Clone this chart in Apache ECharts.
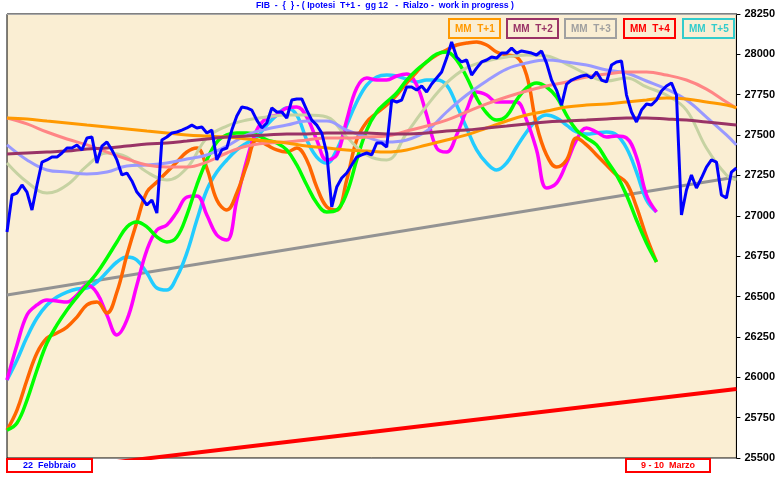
<!DOCTYPE html>
<html><head><meta charset="utf-8">
<script src="https://cdn.jsdelivr.net/npm/echarts/dist/echarts.min.js"></script>
<style>html,body{margin:0;padding:0;background:#fff}#c{width:778px;height:478px}</style>
</head><body><div id="c"></div>
<script>
const titleText = 'FIB  -  {  } - ( Ipotesi  T+1 -  gg 12   -  Rialzo -  work in progress )';
const legendLabels = ['MM  T+1', 'MM  T+2', 'MM  T+3', 'MM  T+4', 'MM  T+5'];
const dateLabels = ['22  Febbraio', '9 - 10  Marzo'];
const yMin = 25500, yMax = 28250, yStep = 250;
const xLast = 146;

// price (one value per x step)
const price = [26900,27129,27141,27191,27147,27036,27191,27333,27346,27364,27364,27389,27420,27420,27439,27408,27482,27488,27327,27432,
27457,27408,27346,27253,27265,27216,27147,27110,27067,27098,27017,27470,27488,27513,27519,27531,27544,27562,27544,27550,
27513,27531,27346,27408,27420,27531,27618,27674,27668,27655,27593,27544,27575,27668,27643,27643,27606,27717,27724,27724,
27655,27593,27562,27513,27389,27055,27178,27234,27265,27315,27364,27377,27389,27377,27451,27451,27426,27717,27705,27717,
27798,27798,27779,27804,27767,27816,27854,27891,27977,28077,27984,27953,27965,27872,27915,27953,27965,27984,27977,28008,
28008,28039,28008,28021,28015,28008,27996,28021,27946,27841,27779,27686,27816,27841,27854,27866,27872,27854,27891,27841,
27829,27934,27953,27959,27748,27643,27581,27655,27693,27686,27717,27773,27804,27823,27748,27005,27160,27253,27172,27234,
27302,27346,27333,27129,27110,27271,27296];

// fast averages (every 2 x steps)
const fastGreen = [25673,25717,25859,26045,26212,26324,26417,26497,26571,26646,26739,26838,26931,26962,26931,26869,26838,26869,27005,27191,
27346,27457,27501,27513,27513,27501,27470,27451,27408,27315,27191,27079,27024,27036,27141,27346,27531,27643,27705,27761,
27841,27903,27953,28002,28015,27965,27860,27730,27637,27593,27618,27717,27792,27823,27798,27736,27624,27531,27482,27439,
27346,27253,27129,26974,26832,26714];
const fastOrange = [25673,25797,25983,26150,26243,26274,26311,26373,26448,26466,26398,26528,26757,26962,27147,27209,27271,27333,27395,27420,
27296,27098,27036,27141,27315,27470,27439,27408,27395,27420,27346,27178,27055,27036,27222,27470,27581,27637,27686,27748,
27823,27891,27953,27996,28027,28058,28070,28077,28058,28015,27996,27984,27872,27562,27377,27302,27346,27482,27439,27377,
27315,27253,27203,27055,26869,26714];
const fastMagenta = [25983,26200,26386,26448,26479,26472,26466,26509,26571,26522,26386,26262,26355,26571,26788,26912,26943,27024,27116,27123,
27005,26881,26850,27098,27346,27531,27606,27624,27668,27674,27612,27470,27346,27377,27593,27792,27854,27841,27841,27866,
27878,27810,27624,27420,27395,27501,27655,27767,27748,27705,27705,27705,27593,27408,27172,27203,27327,27470,27544,27519,
27488,27494,27482,27364,27129,27024];
const fastCyan = [25983,26107,26249,26367,26448,26497,26528,26547,26553,26590,26652,26714,26745,26726,26646,26553,26540,26621,26770,26974,
27160,27271,27346,27408,27451,27488,27562,27624,27668,27624,27470,27364,27327,27408,27562,27705,27810,27860,27872,27866,
27847,27829,27841,27841,27810,27686,27544,27408,27327,27284,27327,27426,27519,27593,27624,27606,27562,27519,27507,27513,
27519,27501,27420,27271,27098,27024];

// slow averages (every 4 x steps)
const slowOrange = [27606,27600,27587,27575,27562,27550,27538,27525,27513,27501,27494,27488,27476,27463,27451,27432,27420,27408,27401,27395,
27408,27439,27470,27501,27544,27587,27624,27649,27674,27686,27693,27705,27717,27730,27724,27705,27686,27668];
const slowMaroon = [27383,27389,27395,27401,27414,27420,27432,27445,27451,27463,27476,27488,27494,27501,27507,27507,27513,27513,27513,27507,
27507,27513,27525,27531,27544,27556,27569,27581,27587,27593,27600,27606,27606,27600,27593,27581,27569,27562];
const slowSalmon = [27606,27569,27519,27476,27439,27395,27352,27315,27302,27302,27333,27389,27432,27451,27457,27470,27482,27482,27488,27494,
27525,27556,27593,27643,27693,27736,27773,27804,27829,27860,27878,27891,27891,27872,27841,27785,27705,27668];
const slowLavender = [27439,27346,27284,27271,27259,27271,27309,27315,27327,27352,27377,27432,27501,27538,27562,27587,27587,27531,27488,27457,
27470,27525,27643,27748,27835,27909,27946,27965,27953,27934,27903,27885,27835,27785,27717,27612,27501,27439];
const slowOlive = [27327,27209,27141,27191,27309,27389,27364,27271,27222,27296,27482,27556,27593,27612,27624,27624,27612,27488,27377,27346,
27513,27680,27823,27916,27959,27984,27996,27990,27940,27878,27835,27854,27798,27748,27655,27420,27253,27222];

// linear trends: [start, end]
const trendGray = [26510, 27240];
const trendRed = [25395, 25927];

const fast = (arr) => arr.map((v, k) => [k * 2, v]);
const slow = (arr) => arr.map((v, k) => [Math.min(k * 4, xLast), v]);
const trend = (arr) => [[0, arr[0]], [xLast, arr[1]]];

function line(name, data, color, width, smooth) {
  return { name, type: 'line', data, symbol: 'none', smooth: smooth ? 0.4 : false,
    lineStyle: { color, width }, itemStyle: { color }, animation: false };
}

const font = 'Liberation Sans';
const legendColors = ['#FF9900', '#993366', '#A0A0A0', '#FF0000', '#33CCCC'];
const legendLefts = [449, 507, 565, 624, 683];

const titles = [{
  text: titleText, left: 256, top: 1, padding: 0,
  textStyle: { color: '#0000FF', fontSize: 8.7, fontWeight: 'bold', fontFamily: font }
}];
legendLabels.forEach((t, i) => titles.push({
  text: t, left: legendLefts[i], top: 19, padding: [4, 6, 3, 6],
  borderColor: legendColors[i], borderWidth: 2,
  textStyle: { color: legendColors[i], fontSize: 10, fontWeight: 'bold', fontFamily: font, lineHeight: 12 }
}));
titles.push({ text: dateLabels[0], left: 7, top: 459, padding: [1, 16, 1, 16], borderColor: '#FF0000', borderWidth: 2,
  textStyle: { color: '#0000FF', fontSize: 9, fontWeight: 'bold', fontFamily: font, lineHeight: 11 } });
titles.push({ text: dateLabels[1], left: 626, top: 459, padding: [1, 15, 1, 15], borderColor: '#FF0000', borderWidth: 2,
  textStyle: { color: '#FF0000', fontSize: 9, fontWeight: 'bold', fontFamily: font, lineHeight: 11 } });

const chart = echarts.init(document.getElementById('c'), null, { renderer: 'canvas' });
chart.setOption({
  animation: false,
  backgroundColor: '#FFFFFF',
  title: titles,
  grid: { left: 7, right: 40, top: 14, bottom: 20, show: true, backgroundColor: '#FAEED3', borderColor: '#000000', borderWidth: 1 },
  xAxis: [{ type: 'value', min: 0, max: xLast, position: 'bottom',
    axisLine: { show: true, onZero: false, lineStyle: { color: '#909090', width: 1 } },
    axisTick: { show: false }, axisLabel: { show: false }, splitLine: { show: false } },
  { type: 'value', min: 0, max: xLast, position: 'top',
    axisLine: { show: true, onZero: false, lineStyle: { color: '#A8A8A8', width: 1 } },
    axisTick: { show: false }, axisLabel: { show: false }, splitLine: { show: false } }],
  yAxis: {
    type: 'value', position: 'right', min: yMin, max: yMax, interval: yStep,
    axisLine: { show: true, onZero: false, lineStyle: { color: '#000', width: 1 } },
    axisTick: { show: true, length: 4, lineStyle: { color: '#000' } },
    axisLabel: { color: '#000', fontSize: 11, fontWeight: 'bold', fontFamily: font, margin: 8,
      formatter: (v) => String(v) },
    splitLine: { show: false }
  },
  series: [
    line('Trend T+4', trend(trendRed), '#FF0000', 4, false),
    line('Trend', trend(trendGray), '#939393', 3, false),
    line('Cyan', fast(fastCyan), '#22CCFF', 3.5, true),
    line('Magenta', fast(fastMagenta), '#FF00FF', 3.5, true),
    line('Orange', fast(fastOrange), '#FF6600', 3.5, true),
    line('Green', fast(fastGreen), '#00FF00', 3.5, true),
    line('Olive', slow(slowOlive), '#C6D2A2', 3, true),
    line('Lavender', slow(slowLavender), '#9999FF', 3, true),
    line('Salmon', slow(slowSalmon), '#FF8585', 3, true),
    line('MM T+1', slow(slowOrange), '#FF9900', 3, true),
    line('MM T+2', slow(slowMaroon), '#993366', 3, true),
    line('Price', price.map((v, i) => [i, v]), '#0000FF', 3, false)
  ]
});
</script>
</body></html>
